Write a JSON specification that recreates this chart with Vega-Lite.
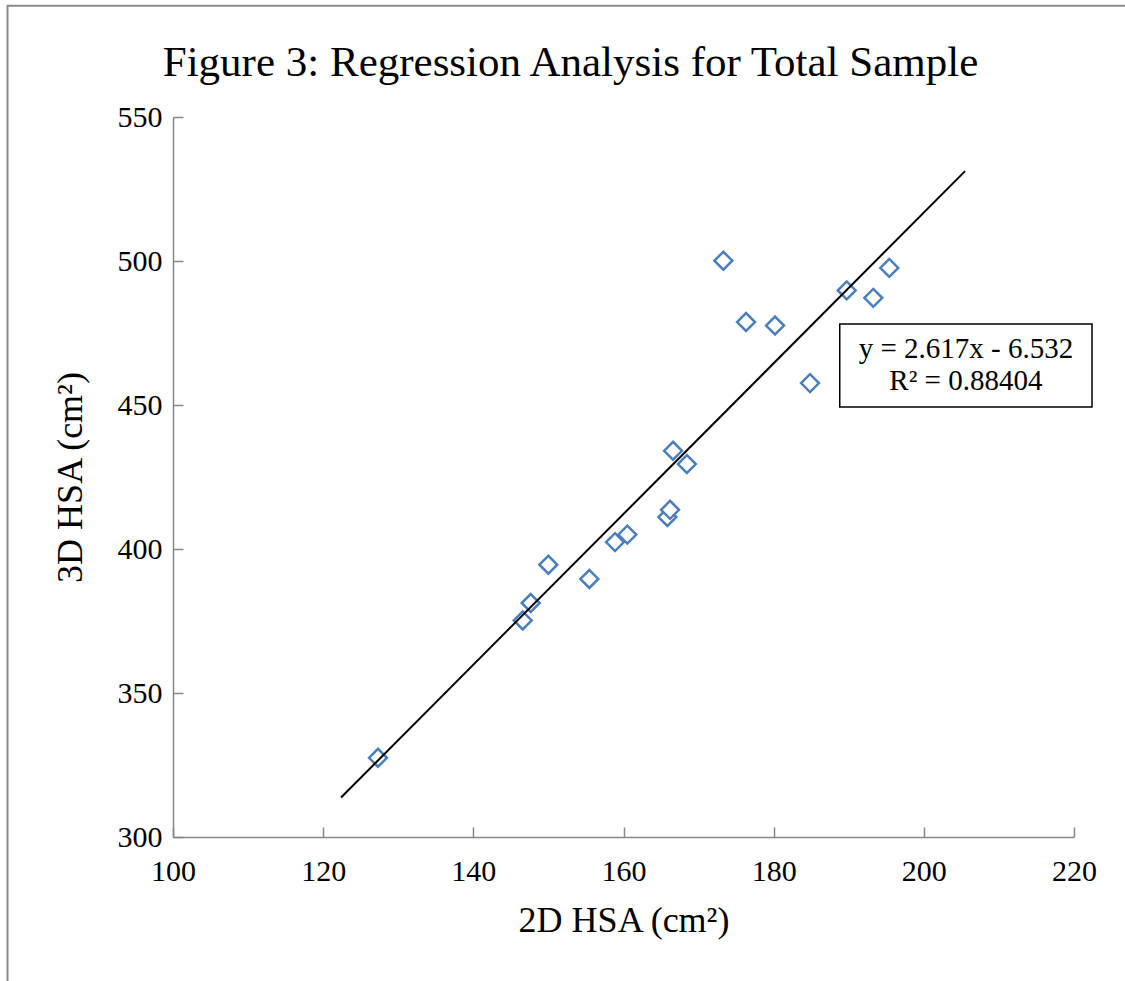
{
  "$schema": "https://vega.github.io/schema/vega-lite/v6.json",
  "width": 901,
  "height": 720,
  "autosize": {"type": "none"},
  "padding": {"left": 173, "top": 117, "right": 51, "bottom": 144},
  "background": "white",
  "title": {
    "text": "Figure 3: Regression Analysis for Total Sample",
    "font": "Liberation Serif",
    "fontSize": 43,
    "fontWeight": "normal",
    "color": "black",
    "anchor": "middle",
    "frame": "group",
    "dx": -53,
    "offset": -80
  },
  "config": {
    "view": {"stroke": null},
    "axis": {
      "grid": false,
      "domainColor": "#868686",
      "domainWidth": 1.5,
      "tickColor": "#868686",
      "tickWidth": 1.5,
      "tickSize": -10,
      "labelFont": "Liberation Serif",
      "labelFontSize": 30,
      "labelColor": "black",
      "labelFlush": false,
      "titleFont": "Liberation Serif",
      "titleFontSize": 36,
      "titleFontWeight": "normal",
      "titleColor": "black"
    }
  },
  "datasets": {
    "points": [
      {"hsa2d": 127.3, "hsa3d": 327.5},
      {"hsa2d": 146.58, "hsa3d": 375.2},
      {"hsa2d": 147.64, "hsa3d": 381.25},
      {"hsa2d": 149.99, "hsa3d": 394.55},
      {"hsa2d": 155.45, "hsa3d": 389.6},
      {"hsa2d": 158.87, "hsa3d": 402.4},
      {"hsa2d": 160.51, "hsa3d": 405.0},
      {"hsa2d": 165.84, "hsa3d": 411.1},
      {"hsa2d": 166.2, "hsa3d": 413.6},
      {"hsa2d": 166.6, "hsa3d": 434.1},
      {"hsa2d": 168.44, "hsa3d": 429.5},
      {"hsa2d": 173.3, "hsa3d": 500.1},
      {"hsa2d": 176.32, "hsa3d": 478.8},
      {"hsa2d": 180.18, "hsa3d": 477.6},
      {"hsa2d": 184.84, "hsa3d": 457.6},
      {"hsa2d": 189.73, "hsa3d": 489.8},
      {"hsa2d": 193.27, "hsa3d": 487.2},
      {"hsa2d": 195.4, "hsa3d": 497.6}
    ],
    "trend": [
      {"hsa2d": 122.38, "hsa3d": 313.7},
      {"hsa2d": 205.49, "hsa3d": 531.2}
    ],
    "frame": [
      {"x1": 77.96, "x2": 300, "y1": 588.6, "y2": 100}
    ],
    "box": [
      {"x1": 188.8, "x2": 222.4, "y1": 478.1, "y2": 449.3}
    ],
    "eq": [
      {"hsa2d": 205.6, "hsa3d": 469.4, "label": "y = 2.617x - 6.532"},
      {"hsa2d": 205.6, "hsa3d": 458.3, "label": "R² = 0.88404"}
    ]
  },
  "layer": [
    {
      "data": {"name": "points"},
      "mark": {"type": "point", "shape": "diamond", "size": 320, "filled": false, "fill": "white", "fillOpacity": 1, "stroke": "#4a7ebb", "strokeWidth": 2.5, "opacity": 1},
      "encoding": {
        "x": {
          "field": "hsa2d", "type": "quantitative",
          "scale": {"domain": [100, 220], "nice": false, "zero": false},
          "axis": {"title": "2D HSA (cm²)", "values": [100, 120, 140, 160, 180, 200, 220], "labelPadding": 29, "titlePadding": 17}
        },
        "y": {
          "field": "hsa3d", "type": "quantitative",
          "scale": {"domain": [300, 550], "nice": false, "zero": false},
          "axis": {"title": "3D HSA (cm²)", "values": [300, 350, 400, 450, 500, 550], "labelPadding": 21, "titlePadding": 28}
        }
      }
    },
    {
      "data": {"name": "trend"},
      "mark": {"type": "line", "color": "black", "strokeWidth": 2},
      "encoding": {
        "x": {"field": "hsa2d", "type": "quantitative"},
        "y": {"field": "hsa3d", "type": "quantitative"}
      }
    },
    {
      "data": {"name": "frame"},
      "mark": {"type": "rect", "fill": null, "stroke": "#8a8a8a", "strokeWidth": 2, "clip": false},
      "encoding": {
        "x": {"field": "x1", "type": "quantitative"},
        "x2": {"field": "x2"},
        "y": {"field": "y1", "type": "quantitative"},
        "y2": {"field": "y2"}
      }
    },
    {
      "data": {"name": "box"},
      "mark": {"type": "rect", "fill": "white", "stroke": "black", "strokeWidth": 1.5, "clip": false},
      "encoding": {
        "x": {"field": "x1", "type": "quantitative"},
        "x2": {"field": "x2"},
        "y": {"field": "y1", "type": "quantitative"},
        "y2": {"field": "y2"}
      }
    },
    {
      "data": {"name": "eq"},
      "mark": {"type": "text", "font": "Liberation Serif", "fontSize": 29, "color": "black", "align": "center", "baseline": "middle", "clip": false},
      "encoding": {
        "x": {"field": "hsa2d", "type": "quantitative"},
        "y": {"field": "hsa3d", "type": "quantitative"},
        "text": {"field": "label"}
      }
    }
  ]
}
